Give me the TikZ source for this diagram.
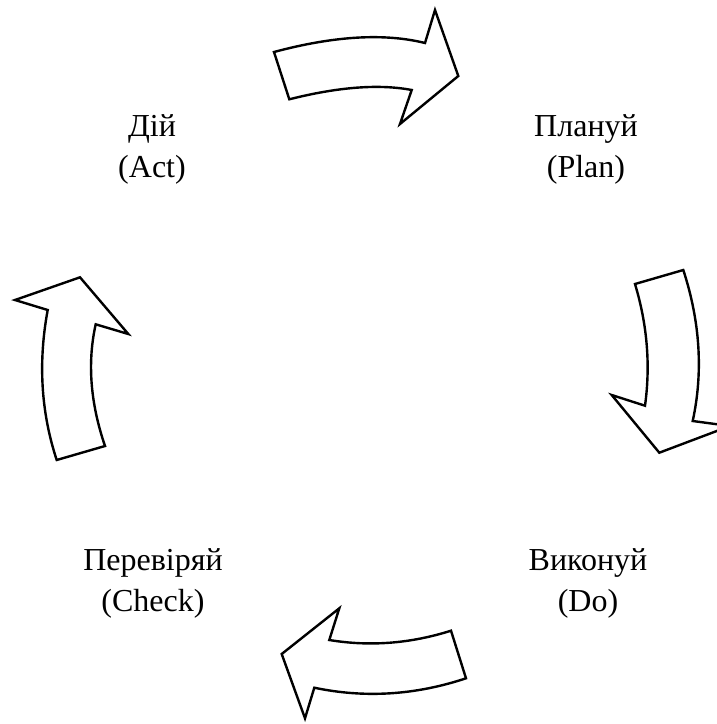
\documentclass[tikz,border=0pt]{standalone}
\usepackage{fontspec}
\setmainfont{Liberation Serif}
\begin{document}
\begin{tikzpicture}[x=1pt,y=-1pt,
  blockarrow/.style={draw=black,fill=white,line width=2.4pt,line join=miter},
  stage/.style={align=center,anchor=base,inner sep=0pt,
    font=\fontsize{32}{41}\selectfont}]
\useasboundingbox (0,0) rectangle (716,724);

% curved block arrows of the cycle
\path[blockarrow] (274,52) .. controls (333.9,35.9) and (384.3,32.9) .. (425,43)
  -- (435,10) -- (458.3,76) -- (400,124) -- (411.7,90)
  .. controls (379.2,83.8) and (338.4,86.9) .. (289.3,99.3) -- cycle;

\path[blockarrow] (635,284) -- (683.3,270)
  .. controls (700.2,321.9) and (703.3,372.3) .. (692.7,421)
  -- (730,426) -- (659.3,452.7) -- (611.7,395) -- (645,405.7)
  .. controls (650.6,365.3) and (647.3,324.7) .. (635,284) -- cycle;

\path[blockarrow] (466,678.3) -- (451,630.7)
  .. controls (410.2,643.6) and (369.6,646.7) .. (329.3,640)
  -- (339.3,608.3) -- (281.7,654) -- (305,718.3) -- (314.3,687.7)
  .. controls (364.6,698.3) and (415.2,695.2) .. (466,678.3) -- cycle;

\path[blockarrow] (56.7,460) -- (105,446)
  .. controls (90.3,402.9) and (87.2,362.4) .. (95.7,324.3)
  -- (128.3,334) -- (80,277.3) -- (15,300) -- (47.7,310)
  .. controls (38,362.3) and (41,412.3) .. (56.7,460) -- cycle;

% stage labels (anchored on the baseline of the English line)
\node[stage] (act)   at (152,177) {Дій\\(Act)};
\node[stage] (plan)  at (586,177) {Плануй\\(Plan)};
\node[stage] (do)    at (588,611) {Виконуй\\(Do)};
\node[stage] (check) at (153,611) {Перевіряй\\(Check)};
\end{tikzpicture}
\end{document}
